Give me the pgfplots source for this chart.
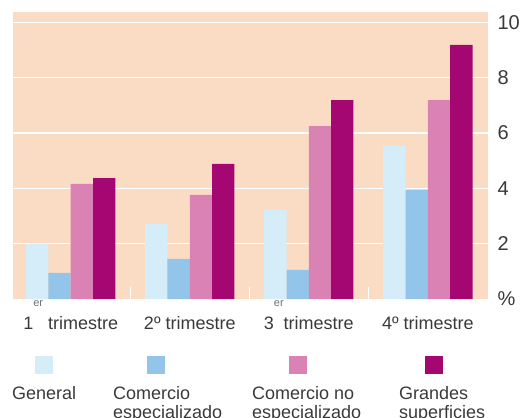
\documentclass[border=0pt]{standalone}
\usepackage{pgfplots}
\pgfplotsset{compat=1.18}
\usepackage{fontspec}
\setmainfont{Liberation Sans}
\definecolor{peach}{HTML}{FADCC5}
\definecolor{cgen}{HTML}{D5ECF9}
\definecolor{cesp}{HTML}{92C5E9}
\definecolor{cnoesp}{HTML}{DB82B4}
\definecolor{cgran}{HTML}{A40672}
\definecolor{txt}{HTML}{3A3A3A}
\definecolor{sup}{HTML}{707070}
\newcommand{\lgd}[4]{\begin{tabular}[t]{@{}p{#1}@{}}\hspace*{#2}\textcolor{#3}{\rule{18bp}{18bp}}\\[6bp]#4\end{tabular}}
\newcommand{\er}{\raisebox{23bp}[0pt][0pt]{\textcolor{sup}{\fontsize{11bp}{11bp}\selectfont er}}}
\begin{document}
\begin{tikzpicture}
\begin{axis}[
  scale only axis, width=475bp, height=287bp,
  xmin=-0.485, xmax=3.505, ymin=0, ymax=10.37,
  ybar=0pt, bar width=0.1875,
  axis background/.style={fill=peach},
  axis line style={draw=none},
  ytick={2,4,6,8,10}, yticklabel pos=right, ytick pos=right,
  extra y ticks={0}, extra y tick labels={\%}, extra y tick style={grid=none},
  ymajorgrids, major grid style={white, line width=1.2bp},
  major tick length=0pt,
  xtick={0,1,2,3}, xtick pos=bottom,
  xticklabels={1\er\ trimestre, 2º trimestre, 3\er trimestre, 4º trimestre},
  minor xtick={0.5,1.5,2.5}, minor tick length=12bp, tick align=inside,
  minor tick style={white, line width=1.5bp},
  ticklabel style={font=\fontsize{18bp}{20bp}\selectfont, text=txt},
  xticklabel style={yshift=-14bp},
  yticklabel style={xshift=6bp, font=\fontsize{20bp}{22bp}\selectfont},
  /pgf/number format/assume math mode=true,
  legend columns=4,
  legend style={at={(0,0)}, anchor=north west, xshift=-1bp, yshift=-57bp,
    draw=none, fill=none, inner sep=0pt, column sep=0pt,
    nodes={inner sep=0pt, text=txt, font=\fontsize{18bp}{19bp}\selectfont}},
  legend cell align=left,
]
\addplot[fill=cgen, draw=none, legend image code/.code={}] coordinates {(0,2.0) (1,2.71) (2,3.22) (3,5.54)};
\addlegendentry{\lgd{101bp}{23bp}{cgen}{General}}
\addplot[fill=cesp, draw=none, legend image code/.code={}] coordinates {(0,0.94) (1,1.45) (2,1.05) (3,3.94)};
\addlegendentry{\lgd{139bp}{34bp}{cesp}{Comercio\newline especializado}}
\addplot[fill=cnoesp, draw=none, legend image code/.code={}] coordinates {(0,4.16) (1,3.76) (2,6.25) (3,7.19)};
\addlegendentry{\lgd{147bp}{37bp}{cnoesp}{Comercio no\newline especializado}}
\addplot[fill=cgran, draw=none, legend image code/.code={}] coordinates {(0,4.37) (1,4.88) (2,7.19) (3,9.18)};
\addlegendentry{\lgd{120bp}{26bp}{cgran}{Grandes\newline superficies}}
\end{axis}
\pgfresetboundingbox
\path (current axis.south west) ++(-13bp,-119bp) rectangle ++(528bp,418bp);
\end{tikzpicture}
\end{document}
